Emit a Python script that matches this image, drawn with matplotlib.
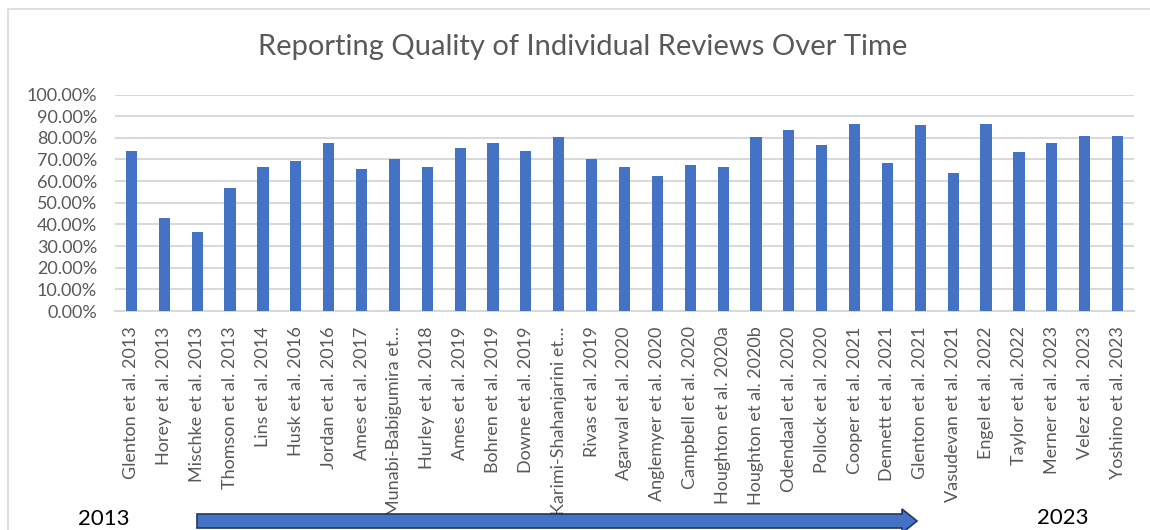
import matplotlib
matplotlib.use('Agg')
import matplotlib.pyplot as plt
import matplotlib.patches as patches
from matplotlib.ticker import PercentFormatter

# studies in chronological order
studies = ['Glenton et al. 2013', 'Horey et al. 2013', 'Mischke et al. 2013',
           'Thomson et al. 2013', 'Lins et al. 2014', 'Husk et al. 2016',
           'Jordan et al. 2016', 'Ames et al. 2017', 'Munabi-Babigumira et\u2026',
           'Hurley et al. 2018', 'Ames et al. 2019', 'Bohren et al. 2019',
           'Downe et al. 2019', 'Karimi-Shahanjarini et\u2026', 'Rivas et al. 2019',
           'Agarwal et al. 2020', 'Anglemyer et al. 2020', 'Campbell et al. 2020',
           'Houghton et al. 2020a', 'Houghton et al. 2020b', 'Odendaal et al. 2020',
           'Pollock et al. 2020', 'Cooper et al. 2021', 'Dennett et al. 2021',
           'Glenton et al. 2021', 'Vasudevan et al. 2021', 'Engel et al. 2022',
           'Taylor et al. 2022', 'Merner et al. 2023', 'Velez et al. 2023',
           'Yoshino et al. 2023']

# reporting quality (fraction)
quality = [0.740, 0.428, 0.365, 0.570, 0.666, 0.693, 0.777, 0.657, 0.703,
           0.666, 0.753, 0.777, 0.740, 0.804, 0.703, 0.666, 0.624, 0.675,
           0.666, 0.804, 0.837, 0.767, 0.864, 0.684, 0.860, 0.638, 0.864,
           0.735, 0.777, 0.809, 0.809]

yticks = [0, 0.1, 0.2, 0.3, 0.4, 0.5, 0.6, 0.7, 0.8, 0.9, 1.0]

title = 'Reporting Quality of Individual Reviews Over Time'
start_year = '2013'
end_year = '2023'

BLUE = '#4472C4'
GREY = '#595959'
GRID = '#d9d9d9'
W, H = 1150, 530

plt.rcParams['font.family'] = ['Lato', 'DejaVu Sans']

fig = plt.figure(figsize=(W / 100, H / 100), dpi=100)
ax = fig.add_axes([115 / W, 1 - 311 / H, (1134 - 115) / W, (311 - 94.5) / H])

x = list(range(len(studies)))
ax.bar(x, quality, width=0.34, color=BLUE, zorder=3)

ax.set_xlim(-0.5, len(studies) - 0.5)
ax.set_ylim(0, 1.0)
ax.set_yticks(yticks)
ax.yaxis.set_major_formatter(PercentFormatter(1.0, decimals=2))
ax.set_xticks(x)
ax.set_xticklabels(studies, rotation=90, va='top', ha='center')

ax.grid(axis='y', color=GRID, linewidth=1.5, zorder=0)
for s in ['top', 'right', 'left']:
	ax.spines[s].set_visible(False)
pass
ax.spines['bottom'].set_color(GRID)
ax.spines['bottom'].set_linewidth(1.5)
ax.tick_params(axis='both', length=0, colors=GREY, labelsize=13)
ax.tick_params(axis='x', pad=11)
ax.tick_params(axis='y', pad=13)

fig.text(583 / W, 1 - 47 / H, title, ha='center', va='center',
		 fontsize=21, color=GREY)

# chart border
border = patches.Rectangle((8 / W, -0.1), 1.2, 1 - 9 / H + 0.1,
						   transform=fig.transFigure, fill=False,
						   edgecolor=GRID, linewidth=1.2)
fig.add_artist(border)

# timeline arrow
arrow = patches.FancyArrow(197 / W, 1 - 521 / H, (917 - 197) / W, 0,
						   width=14 / H, head_width=24 / H, head_length=15 / W,
						   length_includes_head=True, transform=fig.transFigure,
						   facecolor=BLUE, edgecolor='#1F3864', linewidth=1.2,
						   zorder=10)
fig.add_artist(arrow)

fig.text(104 / W, 1 - 519 / H, start_year, ha='center', va='center',
		 fontsize=16, color='black')
fig.text(1063 / W, 1 - 518 / H, end_year, ha='center', va='center',
		 fontsize=16, color='black')

fig.savefig('out.png', dpi=100)
